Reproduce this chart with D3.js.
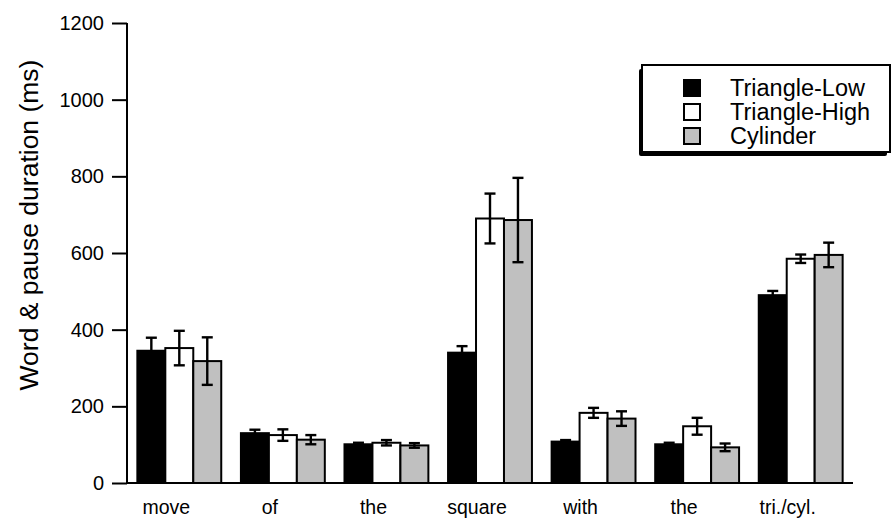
<!DOCTYPE html>
<html>
<head>
<meta charset="utf-8">
<script src="https://cdn.jsdelivr.net/npm/d3@7"></script>
<style>
  html, body { margin: 0; padding: 0; background: #fff; }
  svg { display: block; font-family: "Liberation Sans", Arial, Helvetica, sans-serif; }
</style>
</head>
<body>
<svg id="chart" width="892" height="524"></svg>
<script>
// Word and pause durations per word of the utterance, by condition
const categories = ["move", "of", "the", "square", "with", "the", "tri./cyl."];
const seriesNames = ["Triangle-Low", "Triangle-High", "Cylinder"];
const seriesColors = ["#000000", "#ffffff", "#c0c0c0"];

const triangleLow     = [345, 130, 101, 340, 108, 101, 490];
const triangleLowErr  = [34, 9, 4, 17, 4, 4, 11];
const triangleHigh    = [352, 125, 105, 690, 183, 148, 585];
const triangleHighErr = [45, 15, 7, 65, 13, 22, 11];
const cylinder        = [318, 113, 98, 686, 168, 93, 595];
const cylinderErr     = [62, 12, 6, 110, 19, 10, 32];

const yTicks = [0, 200, 400, 600, 800, 1000, 1200];
const yTitle = "Word & pause duration (ms)";

const values = [triangleLow, triangleHigh, cylinder];
const errors = [triangleLowErr, triangleHighErr, cylinderErr];

const rows = [];
categories.forEach((c, i) => {
  seriesNames.forEach((s, k) => {
    rows.push({ cat: i, series: s, k, value: values[k][i], err: errors[k][i] });
  });
});

const svg = d3.select("#chart");

const y = d3.scaleLinear().domain([0, 1200]).range([483, 23]);
const x0 = d3.scaleBand()
  .domain(d3.range(categories.length))
  .range([127, 853])
  .paddingInner(0.19)
  .paddingOuter(0.1);
const x1 = d3.scaleBand().domain(seriesNames).range([0, x0.bandwidth()]);
const color = d3.scaleOrdinal().domain(seriesNames).range(seriesColors);

// Bars
svg.append("g")
  .selectAll("rect")
  .data(rows)
  .join("rect")
  .attr("x", d => x0(d.cat) + x1(d.series))
  .attr("y", d => y(d.value))
  .attr("width", x1.bandwidth())
  .attr("height", d => y(0) - y(d.value))
  .attr("fill", d => color(d.series))
  .attr("stroke", "#000")
  .attr("stroke-width", 2);

// Error bars
const eb = svg.append("g").attr("stroke", "#000").attr("stroke-width", 2.4);
const cx = d => x0(d.cat) + x1(d.series) + x1.bandwidth() / 2;
const capW = 5.5;
eb.selectAll("line.v").data(rows).join("line").attr("class", "v")
  .attr("x1", cx).attr("x2", cx)
  .attr("y1", d => y(d.value + d.err)).attr("y2", d => y(d.value - d.err));
eb.selectAll("line.t").data(rows).join("line").attr("class", "t")
  .attr("x1", d => cx(d) - capW).attr("x2", d => cx(d) + capW)
  .attr("y1", d => y(d.value + d.err)).attr("y2", d => y(d.value + d.err));
eb.selectAll("line.b").data(rows).join("line").attr("class", "b")
  .attr("x1", d => cx(d) - capW).attr("x2", d => cx(d) + capW)
  .attr("y1", d => y(d.value - d.err)).attr("y2", d => y(d.value - d.err));

// Baseline
svg.append("line")
  .attr("x1", 127).attr("x2", 853)
  .attr("y1", y(0)).attr("y2", y(0))
  .attr("stroke", "#000").attr("stroke-width", 2);

// Y axis
const yAxis = svg.append("g")
  .attr("transform", "translate(127,0)")
  .call(d3.axisLeft(y).tickValues(yTicks).tickFormat(d3.format("d"))
    .tickSize(15).tickPadding(8).tickSizeOuter(0));
yAxis.select(".domain").attr("stroke-width", 2).attr("d", `M0,${y(1200)}V${y(0)}`);
yAxis.selectAll(".tick line").attr("stroke-width", 2);
yAxis.selectAll(".tick text")
  .attr("font-size", 20)
  .attr("font-family", "Liberation Sans, Arial, sans-serif")
  .attr("fill", "#000");

// Y title
svg.append("text")
  .attr("transform", "translate(38,225) rotate(-90)")
  .attr("text-anchor", "middle")
  .attr("font-size", 26.5)
  .attr("fill", "#000")
  .text(yTitle);

// Category labels
svg.append("g")
  .selectAll("text")
  .data(categories)
  .join("text")
  .attr("x", (d, i) => x0(i) + x0.bandwidth() / 2 - 13)
  .attr("y", 514)
  .attr("text-anchor", "middle")
  .attr("font-size", 19.5)
  .attr("fill", "#000")
  .text(d => d);

// Legend
const lg = svg.append("g").attr("transform", "translate(642,65)");
lg.append("rect")
  .attr("x", -3).attr("y", 4).attr("width", 248).attr("height", 87)
  .attr("rx", 2)
  .attr("fill", "#000");
lg.append("rect")
  .attr("x", 0).attr("y", 0).attr("width", 248).attr("height", 87)
  .attr("fill", "#fff").attr("stroke", "#000").attr("stroke-width", 2);
const item = lg.selectAll("g.item")
  .data(seriesNames)
  .join("g")
  .attr("class", "item")
  .attr("transform", (d, i) => `translate(0,${23 + i * 24})`);
item.append("rect")
  .attr("x", 42).attr("y", -8).attr("width", 16).attr("height", 16)
  .attr("fill", d => color(d))
  .attr("stroke", "#000").attr("stroke-width", 2);
item.append("text")
  .attr("x", 88).attr("y", 7.5)
  .attr("font-size", 23.5)
  .attr("fill", "#000")
  .text(d => d);
</script>
</body>
</html>
